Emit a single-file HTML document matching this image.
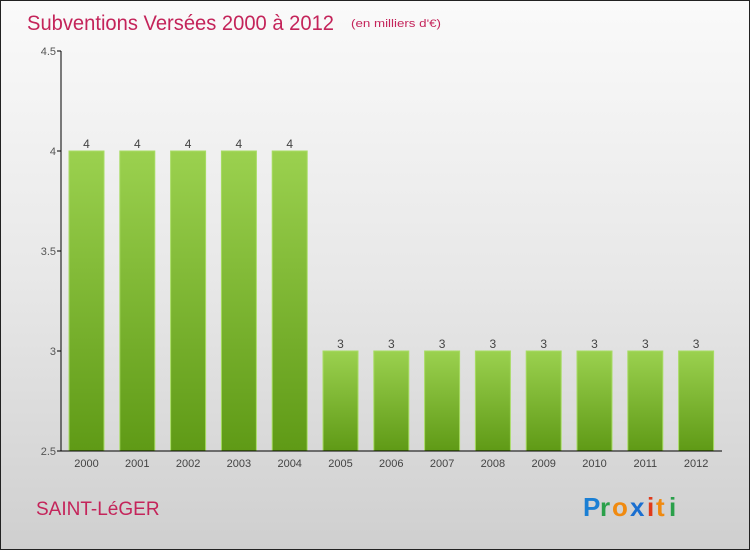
<!DOCTYPE html>
<html><head><meta charset="utf-8"><style>
body{margin:0}
#wrap{position:relative;width:748px;height:548px;border:1px solid #222;background:linear-gradient(#fafafa,#e8e8e8 50%,#cfcfcf);font-family:"Liberation Sans",sans-serif;overflow:hidden}
</style></head><body>
<div id="wrap">
<svg width="748" height="548" style="position:absolute;left:0;top:0" id="svg">
<defs><linearGradient id="bg" x1="0" y1="0" x2="0" y2="1"><stop offset="0" stop-color="#9bd14f"/><stop offset="1" stop-color="#5f9a16"/></linearGradient></defs>
<text x="26" y="29" font-size="21" fill="#c4245a" textLength="307" lengthAdjust="spacingAndGlyphs">Subventions Versées 2000 à 2012</text>
<text x="350" y="26" font-size="11" fill="#c4245a" textLength="90" lengthAdjust="spacingAndGlyphs">(en milliers d'€)</text>
<text x="35" y="514" font-size="19" fill="#c4245a">SAINT-LéGER</text>
<g id="logo" font-size="26" font-weight="bold">
<text x="582" y="515" fill="#1a7fd4">P</text><text x="599" y="515" fill="#2aa04a">r</text><text x="611" y="515" fill="#f08a10">o</text><text x="629" y="515" fill="#1a6fd0">x</text><text x="646" y="515" fill="#e03a1a">i</text><text x="655" y="515" fill="#f08a10">t</text><text x="668" y="515" fill="#2aa04a">i</text>
</g>
</svg>
</div>
<script>
const years=["2000","2001","2002","2003","2004","2005","2006","2007","2008","2009","2010","2011","2012"];
const values=[4,4,4,4,4,3,3,3,3,3,3,3,3];
const yTicks=[2.5,3,3.5,4,4.5];
const NS="http://www.w3.org/2000/svg",svg=document.getElementById("svg");
const y=v=>450-(v-2.5)*200, x=i=>85.5+i*50.8;
function mk(t,a,p){const e=document.createElementNS(NS,t);for(const k in a)e.setAttribute(k,a[k]);(p||svg).appendChild(e);return e;}
values.forEach((v,i)=>{
 const r=mk("rect",{x:x(i)-17.5,y:y(v),width:35,height:450-y(v),fill:"url(#bg)",stroke:"#a8dc64","stroke-width":1});
 
 
 const t=mk("text",{x:x(i),y:y(v)-3,"font-size":12,fill:"#444","text-anchor":"middle"});t.textContent=v;
 
 
 const l=mk("text",{x:x(i),y:466,"font-size":11,fill:"#444","text-anchor":"middle"});l.textContent=years[i];
 
 
});
yTicks.forEach(v=>{
 const tk=mk("line",{x1:56,x2:60,y1:y(v),y2:y(v),stroke:"#000"});
 
 
 const t=mk("text",{x:55,y:y(v)+4,"font-size":11,fill:"#555","text-anchor":"end"});t.textContent=v;
 
 
});
const ya=mk("line",{x1:60,x2:60,y1:50,y2:450,stroke:"#000"});


const xa=mk("line",{x1:60,x2:721,y1:450,y2:450,stroke:"#000"});


</script>
</body></html>
